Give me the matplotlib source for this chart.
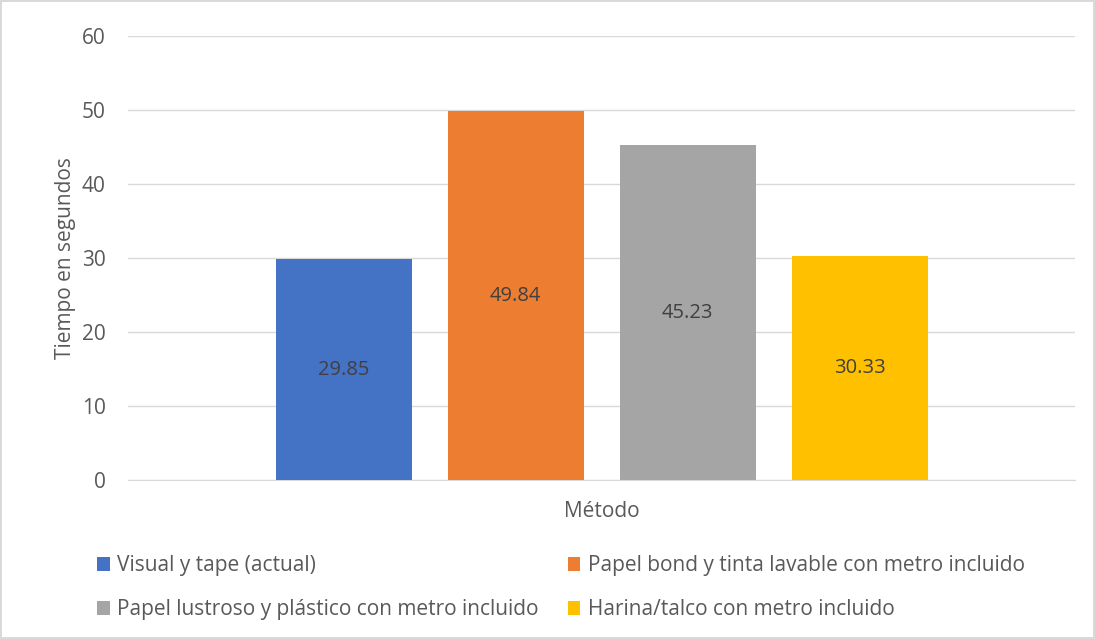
import matplotlib.pyplot as plt
import numpy as np

plt.rcParams['font.family'] = ['Open Sans', 'DejaVu Sans']

metodos = ['Visual y tape (actual)',
           'Papel bond y tinta lavable con metro incluido',
           'Papel lustroso y plástico con metro incluido',
           'Harina/talco con metro incluido']
tiempos = [29.85, 49.84, 45.23, 30.33]
colores = ['#4472C4', '#ED7D31', '#A5A5A5', '#FFC000']
yticks = [0, 10, 20, 30, 40, 50, 60]

txt = '#595959'

fig = plt.figure(figsize=(10.95, 6.39), dpi=100)
fig.patch.set_edgecolor('#D9D9D9')
fig.patch.set_linewidth(1.5)

ax = fig.add_axes([128 / 1095, 159 / 639, 947 / 1095, 444 / 639])

paso = 172 / 947
ancho = 136 / 947
barras = []
for i, (m, t, c) in enumerate(zip(metodos, tiempos, colores)):
    x = (i - 1.5) * paso
    b = ax.bar(x, t, width=ancho, color=c, label=m, zorder=3)
    barras.append(b)
    ax.text(x, t / 2, f'{t:.2f}', ha='center', va='center',
            fontsize=14.5, color='#404040', zorder=4)

ax.set_xlim(-0.5, 0.5)
ax.set_ylim(0, 60)
ax.set_yticks(yticks)
ax.set_xticks([])
ax.grid(axis='y', color='#D9D9D9', linewidth=1, zorder=0)
for s in ['top', 'right', 'left']:
    ax.spines[s].set_visible(False)
ax.spines['bottom'].set_color('#D9D9D9')
ax.tick_params(axis='y', length=0, labelsize=15, labelcolor=txt, pad=16)

ax.set_ylabel('Tiempo en segundos', fontsize=15, color=txt, labelpad=4)
ax.set_xlabel('Método', fontsize=15, color=txt, labelpad=15)

# orden fila por fila en la leyenda de dos columnas
orden = [0, 2, 1, 3]
fig.legend([barras[i] for i in orden], [metodos[i] for i in orden],
           ncol=2, loc='upper left', bbox_to_anchor=(87 / 1095, 1 - 545 / 639),
           frameon=False, fontsize=15, labelcolor=txt, borderpad=0,
           handlelength=0.6, handleheight=0.6, handletextpad=0.35,
           columnspacing=1.4, labelspacing=1.1)

fig.savefig('out.png', dpi=100, facecolor='white', edgecolor=fig.get_edgecolor())
